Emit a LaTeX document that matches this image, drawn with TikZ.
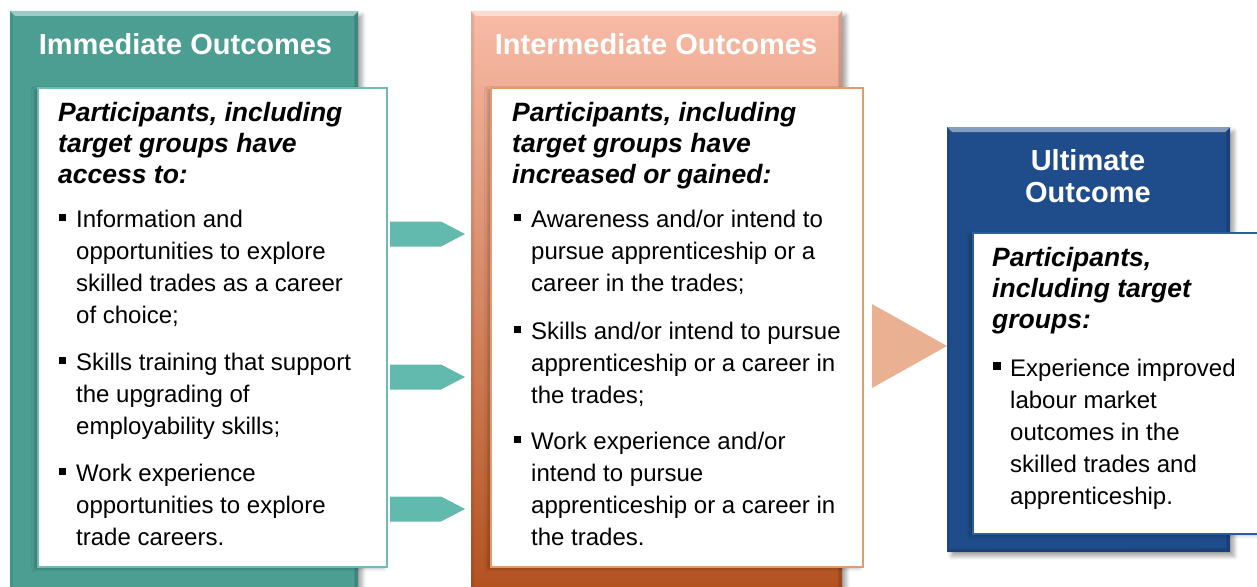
\documentclass[tikz,border=0pt]{standalone}
\usepackage{fontspec}
\setmainfont{Liberation Sans}
\usetikzlibrary{shadows.blur}
\definecolor{tealbox}{HTML}{4C9E93}
\definecolor{tealedge}{HTML}{6DBDB2}
\definecolor{tealarr}{HTML}{62B9AD}
\definecolor{salmtop}{HTML}{F8BBA7}
\definecolor{salmmid}{HTML}{D98568}
\definecolor{salmbot}{HTML}{B3521F}
\definecolor{oredge}{HTML}{E39B6E}
\definecolor{peach}{HTML}{E9B192}
\definecolor{ublue}{HTML}{1F4C8A}
\definecolor{uedge}{HTML}{2E5C9C}
\tikzset{
  obox/.style={anchor=north west, inner sep=0pt,
    blur shadow={shadow xshift=4pt, shadow yshift=-4pt, shadow blur radius=4pt, shadow opacity=35}},
  ibox/.style={anchor=north west, inner sep=0pt, fill=white, line width=1.5pt,
    blur shadow={shadow xshift=-3pt, shadow yshift=-2pt, shadow blur radius=3pt, shadow opacity=25}},
  ttl/.style={anchor=base, inner sep=0pt, text=white, align=center, font=\fontsize{29}{33}\selectfont\bfseries},
  hd/.style={anchor=north west, inner sep=0pt, align=left, font=\fontsize{26.5}{31}\selectfont\bfseries\itshape,
    execute at begin node={\rule{0pt}{20pt}}},
  itm/.style={anchor=north west, inner sep=0pt, align=left, font=\fontsize{24}{32}\selectfont,
    execute at begin node={\rule{0pt}{18pt}}},
  bul/.style={fill=black, inner sep=0pt, minimum size=7pt},
  tarr/.style={fill=tealarr},
}
\begin{document}
\begin{tikzpicture}[x=1pt,y=-1pt]
\useasboundingbox (0,0) rectangle (1257,586);
% outer boxes
\node[obox, fill=tealbox, minimum width=348pt, minimum height=580pt] (im) at (10,11) {};
\node[obox, top color=salmtop, middle color=salmmid, bottom color=salmbot,
  minimum width=371pt, minimum height=580pt] (in) at (471,11) {};
\node[obox, fill=ublue, minimum width=283pt, minimum height=425pt] (ul) at (947,127) {};
% bevel edges
\foreach \b/\c in {im/tealbox, in/salmtop, ul/ublue} {
  \fill[\c!55!white] (\b.north west) -- (\b.north east) -- ([xshift=-5pt,yshift=-5pt]\b.north east)
    -- ([xshift=5pt,yshift=-5pt]\b.north west) -- cycle;
  \fill[black, opacity=0.15] (\b.north east) -- (\b.south east) -- ([xshift=-4pt,yshift=4pt]\b.south east)
    -- ([xshift=-4pt,yshift=-5pt]\b.north east) -- cycle;
  \fill[black, opacity=0.08] (\b.north west) -- (\b.south west) -- ([xshift=3pt,yshift=3pt]\b.south west)
    -- ([xshift=3pt,yshift=-5pt]\b.north west) -- cycle;
}
\fill[black, opacity=0.15] (ul.south west) -- (ul.south east) -- ([xshift=-4pt,yshift=4pt]ul.south east)
  -- ([xshift=3pt,yshift=3pt]ul.south west) -- cycle;
% immediate outcomes
\node[ttl] (imt) at (185.5,55) {Immediate Outcomes};
\node[ibox, draw=tealedge, minimum width=349pt, minimum height=479pt] (imin) at (37,87) {};
\node[hd] (imh) at (58,102) {Participants, including\\target groups have\\access to:};
\node[itm] (im1) at (76,210) {Information and\\opportunities to explore\\skilled trades as a career\\of choice;};
\node[itm] (im2) at (76,353) {Skills training that support\\the upgrading of\\employability skills;};
\node[itm] (im3) at (76,464) {Work experience\\opportunities to explore\\trade careers.};
% intermediate outcomes
\node[ttl] (int) at (656,55) {Intermediate Outcomes};
\node[ibox, draw=oredge, minimum width=372pt, minimum height=479pt] (inin) at (490,87) {};
\node[hd] (inh) at (512,102) {Participants, including\\target groups have\\increased or gained:};
\node[itm] (in1) at (531,210) {Awareness and/or intend to\\pursue apprenticeship or a\\career in the trades;};
\node[itm] (in2) at (531,322) {Skills and/or intend to pursue\\apprenticeship or a career in\\the trades;};
\node[itm] (in3) at (531,432) {Work experience and/or\\intend to pursue\\apprenticeship or a career in\\the trades.};
\foreach \b in {im1,im2,im3,in1,in2,in3}
  \node[bul] (\b b) at ([xshift=-14pt,yshift=-7.5pt]\b.north west) {};
% ultimate outcome
\node[ttl, font=\fontsize{29}{32}\selectfont\bfseries] (ult) at (1088,202) {Ultimate\\Outcome};
\node[ibox, draw=uedge, minimum width=300pt, minimum height=301pt] (ulin) at (972,232) {};
\node[hd] (ulh) at (992,247) {Participants,\\including target\\groups:};
\node[itm] (ul1) at (1010,359) {Experience improved\\labour market\\outcomes in the\\skilled trades and\\apprenticeship.};
\node[bul, minimum size=8pt] (ul1b) at ([xshift=-13pt,yshift=-7pt]ul1.north west) {};
% arrows
\foreach \y in {234,377,509}
  \fill[tarr] (390,\y-12.5) -- (441,\y-12.5) -- (465,\y) -- (441,\y+12.5) -- (390,\y+12.5) -- cycle;
\fill[peach] (872,304) -- (947,346) -- (872,388) -- cycle;
\end{tikzpicture}
\end{document}
